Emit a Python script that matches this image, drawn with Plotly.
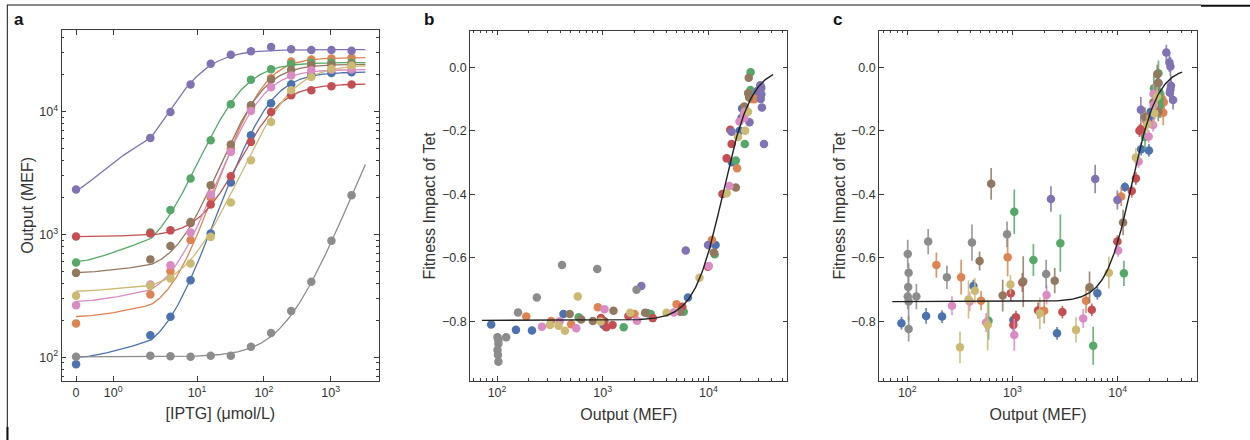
import numpy as np
import plotly.graph_objects as go

# ---------------- data ----------------
iptg = [0, 2, 4, 8, 16, 32, 64, 128, 256, 512, 1024, 2048]

strains = ["blue", "orange", "green", "red", "purple", "brown", "pink", "gray", "yellow"]
colors = ["#4C72B0", "#DD8452", "#55A868", "#C44E52", "#8172B3",
          "#937860", "#DA8BC3", "#8C8C8C", "#CCB974"]

# Output (MEF) measured at each IPTG level (panel a; x values of panels b, c)
out_blue   = [88, 151, 214, 425, 1020, 2650, 6410, 11700, 16700, 19800, 20600, 20900]
out_orange = [189, 325, 503, 900, 2000, 5000, 10800, 18700, 25600, 26500, 27100, 27400]
out_green  = [592, 1040, 1580, 2850, 5850, 11460, 18200, 22100, 24400, 25000, 25100, 25100]
out_red    = [964, 1020, 1080, 1240, 1750, 2980, 5670, 9930, 13600, 14900, 16100, 16600]
out_purple = [2320, 6110, 9930, 16600, 24500, 29000, 31000, 33600, 32100, 31700, 31700, 31300]
out_brown  = [487, 627, 807, 1265, 2520, 5400, 11250, 18200, 21900, 23800, 24100, 24300]
out_pink   = [266, 392, 562, 1040, 2110, 4700, 10100, 15800, 19700, 21700, 21900, 22000]
out_gray   = [101, 103, 102, 101, 103, 103, 122, 158, 238, 412, 888, 2090]
out_yellow = [317, 382, 439, 581, 956, 1820, 4020, 8240, 14900, 19100, 22300, 23700]

# Hill fit parameters for panel a curves (baseline, amplitude, K, n)
hill_A = [100, 215, 600, 960, 2300, 490, 285, 101, 345]
hill_B = [20900, 27300, 24500, 15840, 29700, 23800, 21700, 74600, 23650]
hill_K = [105, 80, 36, 110, 8, 72, 73, 30000, 190]
hill_n = [1.6, 1.7, 1.5, 1.55, 1.4, 1.6, 1.6, 1.35, 1.4]
curve_iptg_max = 3300

# Panel b: fitness impact of Tet
fit_b_blue   = [-0.810, -0.827, -0.829, -0.777, -0.812, -0.775, -0.725, -0.560, -0.299, -0.200, -0.160, -0.130]
fit_b_orange = [-0.785, -0.799, -0.809, -0.756, -0.777, -0.746, -0.544, -0.318, -0.100, -0.090, -0.101, -0.095]
fit_b_green  = [-0.787, -0.800, -0.819, -0.777, -0.770, -0.589, -0.294, -0.242, -0.090, -0.072, -0.016, -0.075]
fit_b_red    = [-0.790, -0.800, -0.819, -0.812, -0.783, -0.790, -0.754, -0.628, -0.399, -0.287, -0.197, -0.242]
fit_b_purple = [-0.689, -0.577, -0.560, -0.203, -0.173, -0.075, -0.057, -0.242, -0.127, -0.085, -0.065, -0.100]
fit_b_brown  = [-0.777, -0.794, -0.799, -0.767, -0.773, -0.770, -0.583, -0.379, -0.124, -0.082, -0.033, -0.095]
fit_b_pink   = [-0.817, -0.800, -0.822, -0.762, -0.798, -0.772, -0.626, -0.374, -0.171, -0.150, -0.160, -0.140]
fit_b_gray   = [-0.850, -0.871, -0.906, -0.890, -0.927, -0.860, -0.850, -0.772, -0.725, -0.623, -0.635, -0.701]
fit_b_yellow = [-0.812, -0.814, -0.830, -0.722, -0.801, -0.773, -0.773, -0.663, -0.397, -0.220, -0.200, -0.140]

# Panel c: fitness impact of Tet with error bars
fit_c_blue   = [-0.806, -0.783, -0.785, -0.689, -0.796, -0.838, -0.712, -0.377, -0.258, -0.262, -0.140, -0.155]
fit_c_orange = [-0.623, -0.661, -0.735, -0.598, -0.767, -0.735, -0.407, -0.170, -0.130, -0.101, -0.143, -0.110]
fit_c_green  = [-0.798, -0.455, -0.607, -0.554, -0.877, -0.649, -0.220, -0.066, -0.019, -0.080, -0.100, -0.120]
fit_c_red    = [-0.712, -0.812, -0.787, -0.678, -0.766, -0.771, -0.764, -0.549, -0.390, -0.350, -0.200, -0.195]
fit_c_purple = [-0.415, -0.352, -0.418, -0.134, -0.050, 0.046, 0.015, -0.103, -0.058, 0.002, -0.070, -0.080]
fit_c_brown  = [-0.610, -0.367, -0.719, -0.675, -0.672, -0.693, -0.489, -0.157, -0.110, -0.022, -0.050, -0.140]
fit_c_pink   = [-0.751, -0.738, -0.804, -0.843, -0.717, -0.791, -0.577, -0.297, -0.218, -0.182, -0.084, -0.120]
fit_c_gray   = [-0.588, -0.647, -0.692, -0.722, -0.738, -0.824, -0.722, -0.549, -0.661, -0.552, -0.526, -0.651]
fit_c_yellow = [-0.882, -0.731, -0.704, -0.812, -0.684, -0.775, -0.827, -0.647, -0.284, -0.180, -0.145, -0.092]

err_c_blue   = [0.020, 0.025, 0.020, 0.020, 0.020, 0.020, 0.020, 0.015, 0.020, 0.020, 0.020, 0.020]
err_c_orange = [0.040, 0.055, 0.030, 0.060, 0.040, 0.040, 0.030, 0.030, 0.030, 0.030, 0.040, 0.030]
err_c_green  = [0.060, 0.070, 0.050, 0.090, 0.060, 0.040, 0.040, 0.040, 0.040, 0.040, 0.040, 0.040]
err_c_red    = [0.025, 0.020, 0.020, 0.030, 0.025, 0.020, 0.020, 0.020, 0.020, 0.020, 0.020, 0.020]
err_c_purple = [0.040, 0.045, 0.030, 0.040, 0.040, 0.025, 0.030, 0.030, 0.030, 0.030, 0.030, 0.030]
err_c_brown  = [0.030, 0.050, 0.050, 0.080, 0.040, 0.050, 0.040, 0.030, 0.040, 0.030, 0.030, 0.030]
err_c_pink   = [0.030, 0.030, 0.030, 0.050, 0.030, 0.030, 0.020, 0.020, 0.020, 0.020, 0.030, 0.030]
err_c_gray   = [0.045, 0.030, 0.035, 0.040, 0.060, 0.040, 0.040, 0.040, 0.037, 0.057, 0.040, 0.045]
err_c_yellow = [0.050, 0.060, 0.040, 0.080, 0.030, 0.050, 0.040, 0.050, 0.030, 0.030, 0.040, 0.030]

# Sigmoid fits for panels b and c (low, high, K, n)
fitb_low, fitb_high, fitb_K, fitb_n = -0.797, 0.0, 13700, 3.2
fitc_low, fitc_high, fitc_K, fitc_n = -0.738, 0.0, 13600, 3.5
fit_x_min, fit_x_max = 72, 41000

outputs = [out_blue, out_orange, out_green, out_red, out_purple, out_brown, out_pink, out_gray, out_yellow]
fit_b = [fit_b_blue, fit_b_orange, fit_b_green, fit_b_red, fit_b_purple, fit_b_brown, fit_b_pink, fit_b_gray, fit_b_yellow]
fit_c = [fit_c_blue, fit_c_orange, fit_c_green, fit_c_red, fit_c_purple, fit_c_brown, fit_c_pink, fit_c_gray, fit_c_yellow]
err_c = [err_c_blue, err_c_orange, err_c_green, err_c_red, err_c_purple, err_c_brown, err_c_pink, err_c_gray, err_c_yellow]

# ---------------- helpers ----------------
LT = 2.0
LS = 1.0 / (1 - 1 / 10.0)


def symlog(v):
    v = np.asarray(v, dtype=float)
    return np.where(v <= LT, v / LT * LS, LS + np.log10(np.maximum(v, LT) / LT))


def hill(x, a, b, k, n):
    x = np.asarray(x, dtype=float)
    return a + b * x ** n / (k ** n + x ** n)


def rgba(hexc, a):
    h = hexc.lstrip("#")
    return "rgba(%d,%d,%d,%.2f)" % (int(h[0:2], 16), int(h[2:4], 16), int(h[4:6], 16), a)


FONT = "Liberation Sans, Arial, sans-serif"
TXT = "#333333"
AX = "#3c3c3c"

fig = go.Figure()

# ---------------- panel a ----------------
xc = np.concatenate([np.linspace(0, LT, 40), np.logspace(np.log10(LT), np.log10(curve_iptg_max), 250)[1:]])
for i, c in enumerate(colors):
    yc = hill(xc, hill_A[i], hill_B[i], hill_K[i], hill_n[i])
    fig.add_trace(go.Scatter(x=symlog(xc), y=yc, mode="lines", line=dict(color=c, width=1.3),
                             xaxis="x", yaxis="y", showlegend=False, hoverinfo="skip"))
for i, c in enumerate(colors):
    fig.add_trace(go.Scatter(x=symlog(iptg), y=outputs[i], mode="markers",
                             marker=dict(color=c, size=8.5, line=dict(width=0)),
                             xaxis="x", yaxis="y", showlegend=False, name=strains[i]))

# ---------------- panel b ----------------
for i, c in enumerate(colors):
    fig.add_trace(go.Scatter(x=outputs[i], y=fit_b[i], mode="markers",
                             marker=dict(color=c, size=8.5, line=dict(width=0)),
                             xaxis="x2", yaxis="y2", showlegend=False, name=strains[i]))
xf = np.logspace(np.log10(fit_x_min), np.log10(fit_x_max), 300)
fig.add_trace(go.Scatter(x=xf, y=hill(xf, fitb_low, fitb_high - fitb_low, fitb_K, fitb_n), mode="lines",
                         line=dict(color="#222222", width=1.4), xaxis="x2", yaxis="y2",
                         showlegend=False, hoverinfo="skip"))

# ---------------- panel c ----------------
for i, c in enumerate(colors):
    fig.add_trace(go.Scatter(x=outputs[i], y=fit_c[i], mode="markers",
                             marker=dict(color=c, size=8.5, line=dict(width=0)),
                             error_y=dict(type="data", array=err_c[i], width=0, thickness=1.7,
                                          color=rgba(c, 0.85)),
                             xaxis="x3", yaxis="y3", showlegend=False, name=strains[i]))
fig.add_trace(go.Scatter(x=xf, y=hill(xf, fitc_low, fitc_high - fitc_low, fitc_K, fitc_n), mode="lines",
                         line=dict(color="#222222", width=1.4), xaxis="x3", yaxis="y3",
                         showlegend=False, hoverinfo="skip"))

# ---------------- axes ----------------
W, H = 1250, 440


def dom_x(a, b):
    return [a / W, b / W]


def dom_y(top, bot):
    return [1 - bot / H, 1 - top / H]


common = dict(showline=True, linecolor=AX, linewidth=1.2, mirror="allticks", ticks="inside",
              tickcolor=AX, ticklen=4.5, tickwidth=1, showgrid=False, zeroline=False,
              tickfont=dict(family=FONT, size=12.5, color=TXT),
              title_font=dict(family=FONT, size=16, color=TXT))

log_minor = [k * 10 ** e for e in range(1, 5) for k in range(2, 10)]

a_ticks = [0, 1, 10, 100, 1000]
fig.update_layout(
    xaxis=dict(domain=dom_x(61.7, 379), anchor="y", range=[-0.215, 4.532],
               tickmode="array", tickvals=list(symlog(a_ticks)),
               ticktext=["0", "10<sup>0</sup>", "10<sup>1</sup>", "10<sup>2</sup>", "10<sup>3</sup>"],
               title=dict(text="[IPTG] (μmol/L)", standoff=9), **common),
    yaxis=dict(domain=dom_y(30, 380.7), anchor="x", type="log", range=[1.81, 4.664],
               tickmode="array", tickvals=[100, 1000, 10000],
               ticktext=["10<sup>2</sup>", "10<sup>3</sup>", "10<sup>4</sup>"],
               minor=dict(tickmode="array", tickvals=log_minor, ticks="inside", ticklen=2.5,
                          tickcolor=AX, showgrid=False),
               title=dict(text="Output (MEF)", standoff=1), **common),
    xaxis2=dict(domain=dom_x(470.3, 787.3), anchor="y2", type="log", range=[1.747, 4.747],
                tickmode="array", tickvals=[100, 1000, 10000],
                ticktext=["10<sup>2</sup>", "10<sup>3</sup>", "10<sup>4</sup>"],
                minor=dict(tickmode="array", tickvals=log_minor, ticks="inside", ticklen=2.5,
                           tickcolor=AX, showgrid=False),
                title=dict(text="Output (MEF)", standoff=9), **common),
    yaxis2=dict(domain=dom_y(30.7, 381), anchor="x2", range=[-0.988, 0.115],
                tickmode="array", tickvals=[-0.8, -0.6, -0.4, -0.2, 0.0],
                ticktext=["\u22120.8", "\u22120.6", "\u22120.4", "\u22120.2", "0.0"],
                title=dict(text="Fitness Impact of Tet", standoff=2), **common),
    xaxis3=dict(domain=dom_x(879.3, 1196.7), anchor="y3", type="log", range=[1.734, 4.751],
                tickmode="array", tickvals=[100, 1000, 10000],
                ticktext=["10<sup>2</sup>", "10<sup>3</sup>", "10<sup>4</sup>"],
                minor=dict(tickmode="array", tickvals=log_minor, ticks="inside", ticklen=2.5,
                           tickcolor=AX, showgrid=False),
                title=dict(text="Output (MEF)", standoff=9), **common),
    yaxis3=dict(domain=dom_y(30.7, 381), anchor="x3", range=[-0.988, 0.115],
                tickmode="array", tickvals=[-0.8, -0.6, -0.4, -0.2, 0.0],
                ticktext=["\u22120.8", "\u22120.6", "\u22120.4", "\u22120.2", "0.0"],
                title=dict(text="Fitness Impact of Tet", standoff=1), **common),
)

# panel letters
for lab, px in [("a", 19), ("b", 429), ("c", 837)]:
    fig.add_annotation(x=px / W, y=1 - 20 / H, xref="paper", yref="paper", text="<b>%s</b>" % lab,
                       showarrow=False, font=dict(family=FONT, size=17, color="#111111"),
                       xanchor="center", yanchor="middle")

# page border fragments
fig.add_shape(type="line", xref="paper", yref="paper", x0=7 / W, x1=1201 / W, y0=1 - 5 / H, y1=1 - 5 / H,
              line=dict(color="#111111", width=1))
fig.add_shape(type="line", xref="paper", yref="paper", x0=1201 / W, x1=1, y0=1 - 5.8 / H, y1=1 - 5.8 / H,
              line=dict(color="#111111", width=2))
fig.add_shape(type="line", xref="paper", yref="paper", x0=7.3 / W, x1=7.3 / W, y0=1 - 5 / H, y1=0,
              line=dict(color="#111111", width=1))
fig.add_shape(type="line", xref="paper", yref="paper", x0=7.5 / W, x1=7.5 / W, y0=13 / H, y1=0,
              line=dict(color="#111111", width=2))

fig.update_layout(width=W, height=H, margin=dict(l=0, r=0, t=0, b=0),
                  paper_bgcolor="white", plot_bgcolor="white",
                  font=dict(family=FONT, color=TXT))

fig.write_html("out.html")
